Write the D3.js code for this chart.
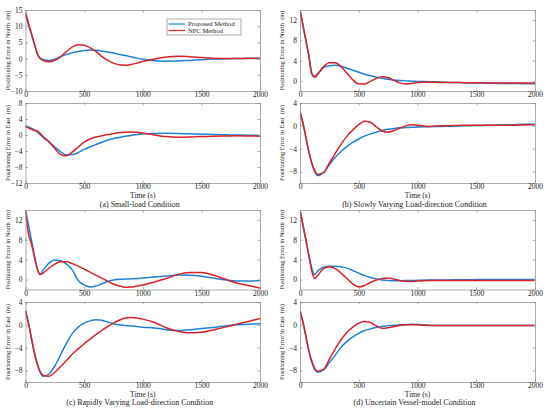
<!DOCTYPE html>
<html><head><meta charset="utf-8">
<script src="https://cdn.jsdelivr.net/npm/d3@7"></script>
<style>
html,body{margin:0;padding:0;background:#fff;}
svg{display:block;}
text{font-family:"Liberation Serif","Times New Roman",serif;fill:#222;}
</style></head>
<body>
<svg id="chart" width="550" height="409"></svg>
<script>
// ---- data ----
const times = [0,25,50,75,100,125,150,200,250,300,350,400,450,500,550,600,650,700,750,800,850,900,950,1000,1100,1200,1300,1400,1500,1600,1700,1800,1900,2000];

// (a) Small-load
const northA_proposed = [13.8,10.4,7.6,4.6,1.6,0.2,-0.3,-0.6,-0.2,0.6,1.3,1.8,2.2,2.5,2.65,2.6,2.35,2.05,1.7,1.3,0.95,0.55,0.15,-0.2,-0.65,-0.8,-0.75,-0.55,-0.35,-0.15,-0.05,0,0,0];
const northA_npc      = [14.3,11,7.8,4.7,1.6,0.0,-0.6,-1.0,-0.5,0.6,2.2,3.6,4.3,4.1,3.4,2.2,0.7,-0.5,-1.4,-1.9,-2.05,-1.8,-1.4,-0.9,-0.1,0.5,0.75,0.6,0.35,0.1,0,0,0.1,0.1];
const eastA_proposed  = [2.3,2.0,1.7,1.3,0.8,0.1,-0.6,-1.7,-3.0,-4.2,-5.0,-4.9,-4.4,-3.6,-3.0,-2.4,-1.8,-1.3,-0.9,-0.6,-0.3,-0.1,0.1,0.3,0.4,0.45,0.4,0.3,0.2,0.1,0.05,0,-0.05,-0.1];
const eastA_npc       = [2.1,1.8,1.4,1.2,1.0,0.4,-0.4,-1.7,-3.4,-4.9,-5.2,-4.2,-3.0,-1.8,-1.0,-0.5,-0.2,0.1,0.35,0.6,0.7,0.75,0.7,0.5,0.0,-0.4,-0.55,-0.5,-0.4,-0.3,-0.25,-0.2,-0.25,-0.3];

// (b) Slowly varying load direction
const northB_proposed = [14,11,8,5,1.6,0.9,1.4,2.6,3.0,3.1,2.9,2.5,2.1,1.7,1.3,1.0,0.7,0.5,0.3,0.15,0.05,0.0,-0.05,-0.1,-0.15,-0.2,-0.3,-0.35,-0.4,-0.45,-0.5,-0.5,-0.55,-0.55];
const northB_npc      = [14,11,8,5,1.3,0.7,1.3,2.8,3.6,3.6,2.8,1.5,0.2,-0.6,-0.6,-0.1,0.5,0.8,0.6,0.1,-0.4,-0.6,-0.5,-0.3,-0.2,-0.3,-0.3,-0.35,-0.35,-0.4,-0.4,-0.4,-0.4,-0.4];
const eastB_proposed  = [2.5,0.5,-2,-4.5,-6.5,-8,-8.7,-8.2,-6.8,-5.5,-4.5,-3.6,-2.9,-2.3,-1.8,-1.4,-1.1,-0.8,-0.6,-0.45,-0.35,-0.3,-0.25,-0.2,-0.15,-0.1,-0.05,0,0.05,0.1,0.15,0.2,0.3,0.3];
const eastB_npc       = [2.5,0.5,-2,-4.5,-6.5,-7.8,-8.5,-8.2,-6.5,-4.8,-3.2,-1.8,-0.7,0.2,0.8,0.6,-0.2,-0.9,-1.1,-0.8,-0.4,0.0,0.2,0.1,-0.1,0.0,0.05,0.1,0.1,0.1,0.1,0.1,0.15,0.2];

// (c) Rapidly varying load direction
const northC_proposed = [14,11,8,5,2.2,1.0,1.9,3.3,3.95,3.8,3.1,1.9,-0.2,-1.1,-1.5,-1.3,-0.85,-0.4,-0.1,0.05,0.1,0.15,0.2,0.3,0.5,0.7,0.9,0.85,0.65,0.3,-0.05,-0.3,-0.3,-0.2];
const northC_npc      = [14,9.3,7.2,4.7,2.3,1.0,1.3,2.3,3.1,3.6,3.6,3.2,2.7,2.1,1.5,0.9,0.3,-0.3,-0.9,-1.3,-1.55,-1.5,-1.3,-1.1,-0.5,0.2,1.0,1.4,1.4,0.9,0.1,-0.7,-1.2,-1.7];
const eastC_proposed  = [2.5,0.3,-2.3,-4.8,-6.8,-8.3,-9.0,-8.6,-7.2,-5.2,-3.2,-1.5,-0.4,0.3,0.7,0.9,0.8,0.5,0.2,0.0,-0.1,-0.2,-0.3,-0.4,-0.55,-0.85,-1.0,-0.85,-0.65,-0.45,-0.2,0.0,0.1,0.2];
const eastC_npc       = [2.5,0.3,-2.3,-4.8,-6.8,-8.2,-8.8,-9.0,-8.3,-7.3,-6.2,-5.1,-4.2,-3.3,-2.5,-1.7,-1.0,-0.3,0.3,0.8,1.2,1.3,1.2,1.0,0.4,-0.5,-1.1,-1.4,-1.3,-0.9,-0.4,0.1,0.6,1.1];

// (d) Uncertain vessel model
const northD_proposed = [14,11,8,5,2.3,1.0,1.7,2.5,2.7,2.7,2.6,2.3,1.8,1.3,0.8,0.4,0.1,-0.1,-0.2,-0.25,-0.25,-0.2,-0.2,-0.15,-0.1,-0.1,-0.05,-0.05,0,0,0,0,0,0];
const northD_npc      = [14,11,8,4.8,1.8,0.2,0.8,2.2,2.6,2.2,1.3,0.2,-0.9,-1.5,-1.2,-0.6,-0.1,0.2,0.3,0.1,-0.2,-0.35,-0.4,-0.3,-0.2,-0.2,-0.2,-0.2,-0.2,-0.2,-0.2,-0.2,-0.2,-0.2];
const eastD_proposed  = [2.5,0.5,-2,-4.5,-6.5,-7.8,-8.3,-7.9,-6.6,-5.3,-3.9,-2.9,-2.1,-1.5,-1.0,-0.7,-0.4,-0.25,-0.15,-0.05,0,0.05,0.1,0.05,-0.05,-0.1,-0.1,-0.1,-0.1,-0.1,-0.1,-0.1,-0.1,-0.1];
const eastD_npc       = [2.5,0.5,-2,-4.5,-6.3,-7.6,-8.1,-7.8,-6.0,-4.2,-2.6,-1.3,-0.4,0.3,0.6,0.4,-0.2,-0.6,-0.5,-0.3,-0.1,0.0,0.0,0.0,-0.1,-0.1,-0.1,-0.1,-0.1,-0.1,-0.1,-0.1,-0.1,-0.1];

// tick labels / domains
const xTicks = [0,500,1000,1500,2000];
const yTicksNorthA = [-10,-5,0,5,10,15];
const yTicksEastA = [-12,-8,-4,0,4,8];
const yTicksNorth = [0,4,8,12];
const yTicksEast = [-8,-4,0,4];
const seriesNames = ["Proposed Method","NPC Method"];
const captions = ["(a) Small-load Condition","(b) Slowly Varying Load-direction Condition","(c) Rapidly Varying Load-direction Condition","(d) Uncertain Vessel-model Condition"];
const northLabel = "Positioning Error in North  (m)";
const eastLabel = "Positioning Error in East  (m)";
const xLabel = "Time (s)";

// ---- layout ----
const colors = ["#1f80d4","#d92128"];
const svg = d3.select("#chart");
const cols = [{x0:25.5,x1:260},{x0:300,x1:535}];
const rows = [{n:[10,91],e:[103,183],time:197.8,cap:206.6},{n:[210,289.5],e:[302,382],time:396.5,cap:405.3}];

const panels = [
  {c:0,r:0,north:[northA_proposed,northA_npc],east:[eastA_proposed,eastA_npc],nd:[-10,15],ed:[-12,8],nt:yTicksNorthA,et:yTicksEastA,legend:true},
  {c:1,r:0,north:[northB_proposed,northB_npc],east:[eastB_proposed,eastB_npc],nd:[-2,14],ed:[-10,4],nt:yTicksNorth,et:yTicksEast},
  {c:0,r:1,north:[northC_proposed,northC_npc],east:[eastC_proposed,eastC_npc],nd:[-2,14],ed:[-10,4],nt:yTicksNorth,et:yTicksEast},
  {c:1,r:1,north:[northD_proposed,northD_npc],east:[eastD_proposed,eastD_npc],nd:[-2,14],ed:[-10,4],nt:yTicksNorth,et:yTicksEast}
];

const fmt = d3.format("d");

function drawAxes(x0,x1,yr,domain,yt,series,label,legend){
  const x = d3.scaleLinear().domain([0,2000]).range([x0,x1]);
  const y = d3.scaleLinear().domain(domain).range([yr[1],yr[0]]);
  const g = svg.append("g");
  g.append("rect").attr("x",x0).attr("y",yr[0]).attr("width",x1-x0).attr("height",yr[1]-yr[0])
    .attr("fill","#fff");
  const clipId = "c"+Math.round(x0)+"_"+Math.round(yr[0]);
  svg.append("clipPath").attr("id",clipId).append("rect")
    .attr("x",x0).attr("y",yr[0]).attr("width",x1-x0).attr("height",yr[1]-yr[0]);
  const line = d3.line().x((d,i)=>x(times[i])).y(d=>y(d)).curve(d3.curveMonotoneX);
  series.forEach((s,k)=>{
    g.append("path").attr("d",line(s)).attr("fill","none").attr("stroke",colors[k])
      .attr("stroke-width",1.5).attr("clip-path","url(#"+clipId+")");
  });
  const ax = (sel)=>sel.selectAll("path,line").attr("stroke","#8a8a8a").attr("stroke-width",0.7);
  const txt = (s)=>s.selectAll("text").attr("font-size","7.5px").attr("font-family","Liberation Serif").attr("fill","#222");
  g.append("g").attr("transform",`translate(0,${yr[1]})`)
    .call(d3.axisBottom(x).tickValues(xTicks).tickFormat(fmt).tickSize(-2.5).tickPadding(0.8).tickSizeOuter(0))
    .call(ax).call(txt);
  g.append("g").attr("transform",`translate(${x0},0)`)
    .call(d3.axisLeft(y).tickValues(yt).tickFormat(fmt).tickSize(-2.5).tickPadding(3).tickSizeOuter(0))
    .call(ax).call(txt);
  g.append("g").attr("transform",`translate(0,${yr[0]})`)
    .call(d3.axisTop(x).tickValues(xTicks).tickSize(-2.5).tickFormat("").tickSizeOuter(0)).call(ax);
  g.append("g").attr("transform",`translate(${x1},0)`)
    .call(d3.axisRight(y).tickValues(yt).tickSize(-2.5).tickFormat("").tickSizeOuter(0)).call(ax);
  g.append("text").attr("transform",`translate(${x0-18},${(yr[0]+yr[1])/2}) rotate(-90)`)
    .attr("text-anchor","middle").attr("dy","0.35em").attr("font-size","6.4px")
    .style("white-space","pre").text(label);
  if(legend){
    const lx=167, ly=19, lw=74, lh=16;
    const lg = g.append("g");
    lg.append("rect").attr("x",lx).attr("y",ly).attr("width",lw).attr("height",lh)
      .attr("fill","#fff").attr("stroke","#8a8a8a").attr("stroke-width",0.7);
    seriesNames.forEach((n,k)=>{
      const yy = ly+5+k*6.5;
      lg.append("line").attr("x1",lx+1.5).attr("x2",lx+18).attr("y1",yy).attr("y2",yy)
        .attr("stroke",colors[k]).attr("stroke-width",1.2);
      lg.append("text").attr("x",lx+21).attr("y",yy).attr("dy","0.33em").attr("font-size","6.6px").text(n);
    });
  }
}

panels.forEach((p,i)=>{
  const c = cols[p.c], r = rows[p.r];
  drawAxes(c.x0,c.x1,r.n,p.nd,p.nt,p.north,northLabel,p.legend);
  drawAxes(c.x0,c.x1,r.e,p.ed,p.et,p.east,eastLabel,false);
  svg.append("text").attr("x",(c.x0+c.x1)/2).attr("y",r.time).attr("text-anchor","middle")
    .attr("font-size","7.5px").text(xLabel);
  svg.append("text").attr("x",(c.x0+c.x1)/2-3).attr("y",r.cap).attr("text-anchor","middle")
    .attr("font-size","8px").text(captions[i]);
});
</script>
</body></html>
